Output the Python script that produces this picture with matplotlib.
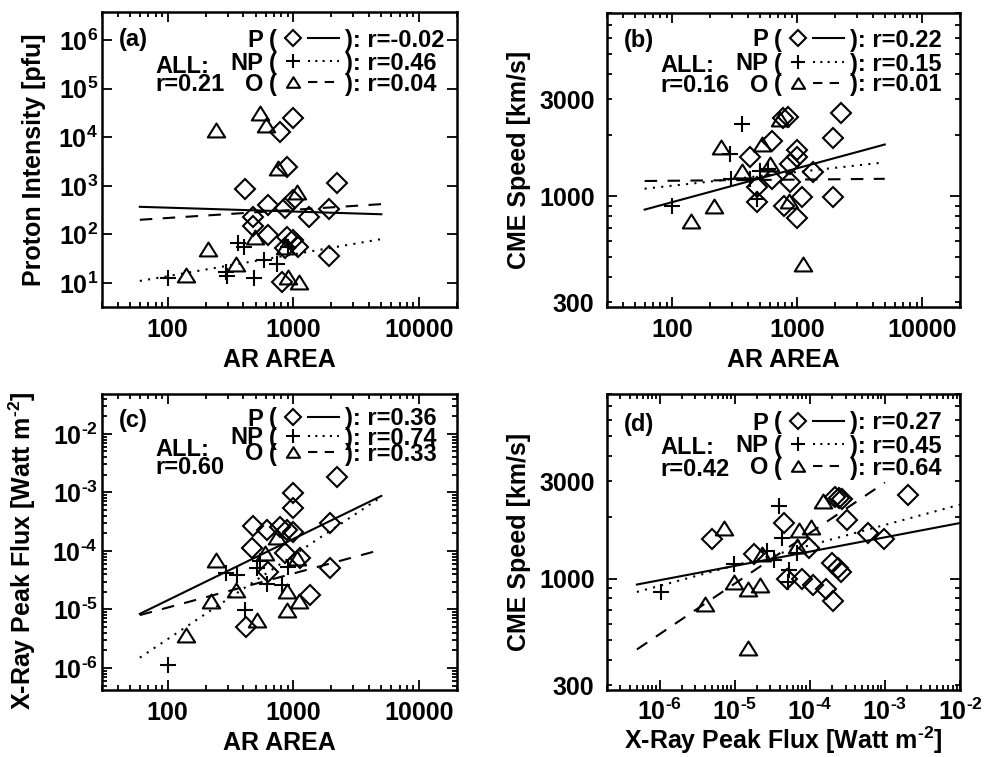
import numpy as np
import matplotlib
matplotlib.use('Agg')
import matplotlib.pyplot as plt
from matplotlib.ticker import FixedLocator, FuncFormatter, LogLocator, NullFormatter
from matplotlib.path import Path

plt.rcParams['font.family'] = ['Liberation Sans', 'DejaVu Sans']
plt.rcParams['font.weight'] = 'bold'
plt.rcParams['mathtext.fontset'] = 'custom'
plt.rcParams['mathtext.rm'] = 'Liberation Sans:bold'
plt.rcParams['mathtext.bf'] = 'Liberation Sans:bold'
plt.rcParams['mathtext.it'] = 'Liberation Sans:bold'
plt.rcParams['mathtext.default'] = 'bf'
plt.rcParams['axes.linewidth'] = 1.8

# ---------------- data ----------------
# Panel (a): AR area vs proton intensity
a_P_x = [984, 780, 883, 411, 2210, 630, 855, 996, 1930, 1330, 473, 473, 630, 883, 996, 1095, 855, 1930, 805]
a_P_y = [24500, 12600, 2470, 848, 1130, 403, 344, 510, 329, 232, 232, 149, 97, 90, 77, 56, 52, 36.5, 10.6]
a_NP_x = [100, 290, 295, 363, 403, 484, 582, 735, 908]
a_NP_y = [12.9, 16.5, 14, 65, 54, 12.5, 29.5, 25, 56]
a_O_x = [541, 600, 244, 757, 1060, 493, 855, 209, 348, 139, 1107, 900]
a_O_y = [31000, 17800, 14100, 2290, 757, 87, 56, 49, 25, 14.6, 10.6, 13.5]

# Panel (b): AR area vs CME speed
b_P_x = [2220, 845, 762, 1930, 622, 419, 986, 997, 871, 1336, 622, 473, 871, 1080, 1930, 473, 780, 986]
b_P_y = [2570, 2470, 2430, 1940, 1865, 1556, 1690, 1570, 1445, 1313, 1217, 1107, 1172, 996, 996, 933, 899, 780]
b_NP_x = [359, 290, 293, 100, 419, 502, 586, 473]
b_NP_y = [2270, 1615, 1217, 899, 1217, 1340, 1362, 970]
b_O_x = [726, 246, 518, 604, 359, 216, 141, 1100, 860]
b_O_y = [2400, 1740, 1820, 1445, 1330, 899, 753, 464, 952]

# Panel (c): AR area vs X-ray peak flux
c_P_x = [2210, 996, 996, 1950, 479, 611, 780, 883, 996, 464, 855, 1127, 630, 1950, 1352, 416]
c_P_y = [1.86e-3, 9.7e-4, 5.5e-4, 2.97e-4, 2.7e-4, 2.28e-4, 2.6e-4, 2.3e-4, 2.14e-4,
         1.11e-4, 9.1e-5, 7.5e-5, 4.4e-5, 5.2e-5, 1.77e-5, 4.95e-6]
c_NP_x = [100, 290, 353, 411, 509, 541, 611, 805, 908]
c_NP_y = [1.12e-6, 4.16e-5, 3.9e-5, 9.8e-6, 5.2e-5, 6.6e-5, 2.7e-5, 2.62e-5, 5.4e-5]
c_O_x = [244, 592, 734, 348, 220, 139, 509, 883, 883, 1112, 1060]
c_O_y = [7.0e-5, 9.1e-5, 1.75e-4, 2.15e-5, 1.4e-5, 3.7e-6, 6.6e-6, 2.07e-5, 9.8e-6, 1.4e-5, 7.5e-5]

# Panel (d): X-ray peak flux vs CME speed
d_P_x = [2.05e-3, 2.46e-4, 2.2e-4, 2.7e-4, 3.18e-4, 4.5e-5, 5.0e-6, 5.9e-4, 9.6e-4, 1.8e-5,
         9.8e-5, 2.0e-4, 2.4e-4, 2.6e-4, 5.04e-5, 8.0e-5, 1.12e-4, 1.63e-4, 2.07e-4]
d_P_y = [2550, 2480, 2520, 2450, 1937, 1878, 1556, 1675, 1556, 1320,
         1413, 1191, 1125, 1083, 1000, 1000, 930, 889, 776]
d_NP_x = [1.06e-6, 9.8e-6, 3.9e-5, 4.3e-5, 2.73e-5, 3.3e-5, 5.3e-5, 5.2e-5, 6.85e-5]
d_NP_y = [862, 1178, 2270, 1585, 1360, 1238, 1104, 967, 1335]
d_O_x = [1.5e-4, 7.2e-6, 7.2e-5, 1.03e-4, 6.85e-5, 2.29e-5, 9.8e-6, 1.5e-5, 2.2e-5, 4.0e-6, 1.5e-5]
d_O_y = [2387, 1775, 1722, 1785, 1440, 1320, 959, 889, 930, 755, 455]

# Regression line end points
fit_x_area = [60, 5000]
a_fit = {'P': [370, 260], 'NP': [11, 80], 'O': [200, 420]}
b_fit = {'P': [860, 1800], 'NP': [1090, 1470], 'O': [1190, 1220]}
c_fit = {'P': [8.4e-6, 8.7e-4], 'NP': [1.5e-6, 8.4e-4], 'O': [8.0e-6, 1.05e-4]}
d_fit_x = {'P': [5e-7, 1e-2], 'NP': [5e-7, 1e-2], 'O': [5e-7, 1e-3]}
d_fit = {'P': [935, 1870], 'NP': [860, 2300], 'O': [450, 2950]}

# correlation coefficients
a_r = ['-0.02', '0.46', '0.04']; a_rall = '0.21'
b_r = ['0.22', '0.15', '0.01']; b_rall = '0.16'
c_r = ['0.36', '0.74', '0.33']; c_rall = '0.60'
d_r = ['0.27', '0.45', '0.64']; d_rall = '0.42'

# ---------------- figure ----------------
W, H = 988, 757
fig = plt.figure(figsize=(W / 100, H / 100), dpi=100)

def add_axes(l, r, t, b):
    return fig.add_axes([l / W, 1 - b / H, (r - l) / W, (b - t) / H])

tri = Path([(-1, -0.8), (1, -0.8), (0, 0.8), (-1, -0.8)],
           [Path.MOVETO, Path.LINETO, Path.LINETO, Path.CLOSEPOLY])

MK = {'P': 'D', 'NP': '+', 'O': tri}
MS = {'P': 10.0, 'NP': 11.5, 'O': 12.5}
MS_LEG = {'P': 8.0, 'NP': 9.5, 'O': 9.5}
LS = {'P': '-', 'NP': (0, (1, 3)), 'O': (0, (6, 5))}
LS_LEG = {'P': '-', 'NP': (0, (1, 2.5)), 'O': (0, (4.5, 3.5))}
LW = 1.5
FS = 18
FS_LEG = 17


def scatter(ax, x, y, key):
    ax.plot(x, y, linestyle='none', marker=MK[key], ms=MS[key], mfc='none', mec='black',
            mew=1.5, color='black', clip_on=False)


def fitline(ax, x, y, key):
    ax.plot(x, y, linestyle=LS[key], color='black', lw=LW)


def style(ax):
    ax.set_xscale('log')
    ax.set_yscale('log')
    ax.tick_params(which='both', direction='in', top=True, right=True, labelsize=FS)
    ax.tick_params(which='major', length=7.5, width=1.3)
    ax.tick_params(which='minor', length=3.8, width=1.3)


def legend(ax, tag, rows_dy, all_dy, r_dy, tag_dy, rvals, rall):
    pos = ax.get_position()
    wpx = pos.width * W
    hpx = pos.height * H
    fx = lambda dx: dx / wpx
    fy = lambda dy: 1 - dy / hpx
    cap = 8.5
    kw = dict(transform=ax.transAxes, fontsize=FS_LEG, va='baseline', fontweight='bold')
    ax.text(fx(17), fy(tag_dy + cap), '(%s)' % tag, ha='left', **kw)
    for i, key in enumerate(['P', 'NP', 'O']):
        dy = rows_dy[i]
        ax.text(fx(161), fy(dy + cap), key, ha='right', **kw)
        ax.text(fx(167), fy(dy + cap), '(', ha='left', **kw)
        ax.plot([fx(191)], [fy(dy)], marker=MK[key], ms=MS_LEG[key], mfc='none', mec='black',
                mew=1.5, linestyle='none', transform=ax.transAxes, clip_on=False)
        ax.plot([fx(206), fx(237)], [fy(dy), fy(dy)], linestyle=LS_LEG[key], color='black',
                lw=LW, transform=ax.transAxes, clip_on=False)
        ax.text(fx(243), fy(dy + cap), '): r=%s' % rvals[i], ha='left', **kw)
    ax.text(fx(53), fy(all_dy + cap), 'ALL:', ha='left', **kw)
    ax.text(fx(53), fy(r_dy + cap), 'r=%s' % rall, ha='left', **kw)


def pow_label(v, p):
    e = int(round(np.log10(v)))
    if e < 0:
        return r'$\mathbf{10^{\text{-}%d}}$' % (-e)
    return r'$\mathbf{10^{%d}}$' % e


area_fmt = FuncFormatter(lambda v, p: '%d' % round(v))
pow_fmt = FuncFormatter(pow_label)
FLUX_LABEL = r'X-Ray Peak Flux [Watt m$^{\text{-}\mathbf{2}}$]'


def area_xaxis(ax):
    ax.set_xlim(30, 20000)
    ax.xaxis.set_major_locator(FixedLocator([100, 1000, 10000]))
    ax.xaxis.set_major_formatter(area_fmt)
    ax.xaxis.set_minor_locator(LogLocator(base=10, subs=np.arange(2, 10), numticks=20))
    ax.xaxis.set_minor_formatter(NullFormatter())
    ax.tick_params(axis='x', which='both', pad=8)
    ax.set_xlabel('AR AREA', fontsize=FS, fontweight='bold', labelpad=4)


def speed_yaxis(ax):
    ax.set_ylim(285, 8000)
    ax.yaxis.set_major_locator(FixedLocator([1000]))
    ax.yaxis.set_major_formatter(area_fmt)
    minors = [300, 400, 500, 600, 700, 800, 900, 2000, 3000, 4000, 5000, 6000, 7000, 8000]
    ax.yaxis.set_minor_locator(FixedLocator(minors))
    ax.yaxis.set_minor_formatter(FuncFormatter(
        lambda v, p: ('%d' % round(v)) if round(v) in (300, 3000) else ''))
    ax.tick_params(axis='y', which='both', pad=9)
    ax.set_ylabel('CME Speed [km/s]', fontsize=FS, fontweight='bold', labelpad=6)


# ---- (a)
axa = add_axes(102, 457, 12, 307)
style(axa)
for key, xs, ys in [('P', a_P_x, a_P_y), ('NP', a_NP_x, a_NP_y), ('O', a_O_x, a_O_y)]:
    scatter(axa, xs, ys, key)
    fitline(axa, fit_x_area, a_fit[key], key)
area_xaxis(axa)
axa.set_ylim(3.2, 3.8e6)
axa.yaxis.set_major_locator(FixedLocator([1e1, 1e2, 1e3, 1e4, 1e5, 1e6]))
axa.yaxis.set_major_formatter(pow_fmt)
axa.yaxis.set_minor_locator(FixedLocator([]))
axa.tick_params(axis='y', which='both', pad=3)
axa.set_ylabel('Proton Intensity [pfu]', fontsize=FS, fontweight='bold', labelpad=9)
legend(axa, 'a', [26, 49, 70], 52, 70, 25, a_r, a_rall)

# ---- (b)
axb = add_axes(607, 960, 13, 307)
style(axb)
for key, xs, ys in [('P', b_P_x, b_P_y), ('NP', b_NP_x, b_NP_y), ('O', b_O_x, b_O_y)]:
    scatter(axb, xs, ys, key)
    fitline(axb, fit_x_area, b_fit[key], key)
area_xaxis(axb)
speed_yaxis(axb)
legend(axb, 'b', [25, 49, 70], 51, 70, 25, b_r, b_rall)

# ---- (c)
axc = add_axes(102, 457, 394, 690)
style(axc)
for key, xs, ys in [('P', c_P_x, c_P_y), ('NP', c_NP_x, c_NP_y), ('O', c_O_x, c_O_y)]:
    scatter(axc, xs, ys, key)
    fitline(axc, fit_x_area, c_fit[key], key)
area_xaxis(axc)
axc.set_ylim(4.2e-7, 4.8e-2)
axc.yaxis.set_major_locator(FixedLocator([1e-6, 1e-5, 1e-4, 1e-3, 1e-2]))
axc.yaxis.set_major_formatter(pow_fmt)
axc.yaxis.set_minor_locator(LogLocator(base=10, subs=np.arange(2, 10), numticks=20))
axc.yaxis.set_minor_formatter(NullFormatter())
axc.tick_params(axis='y', which='both', pad=3)
axc.set_ylabel(FLUX_LABEL, fontsize=FS, fontweight='bold')
axc.yaxis.set_label_coords(-0.18, 0.47)
legend(axc, 'c', [23, 42, 58], 53, 71, 24, c_r, c_rall)

# ---- (d)
axd = add_axes(607, 960, 394, 690)
style(axd)
for key, xs, ys in [('P', d_P_x, d_P_y), ('NP', d_NP_x, d_NP_y), ('O', d_O_x, d_O_y)]:
    scatter(axd, xs, ys, key)
    fitline(axd, d_fit_x[key], d_fit[key], key)
axd.set_xlim(2e-7, 1e-2)
axd.xaxis.set_major_locator(FixedLocator([1e-6, 1e-5, 1e-4, 1e-3, 1e-2]))
axd.xaxis.set_major_formatter(pow_fmt)
axd.xaxis.set_minor_locator(LogLocator(base=10, subs=np.arange(2, 10), numticks=20))
axd.xaxis.set_minor_formatter(NullFormatter())
axd.tick_params(axis='x', which='both', pad=6)
axd.set_xlabel(FLUX_LABEL, fontsize=FS, fontweight='bold', labelpad=0)
speed_yaxis(axd)
legend(axd, 'd', [27, 50, 72], 52, 73, 28, d_r, d_rall)

fig.savefig('out.png', dpi=100)
